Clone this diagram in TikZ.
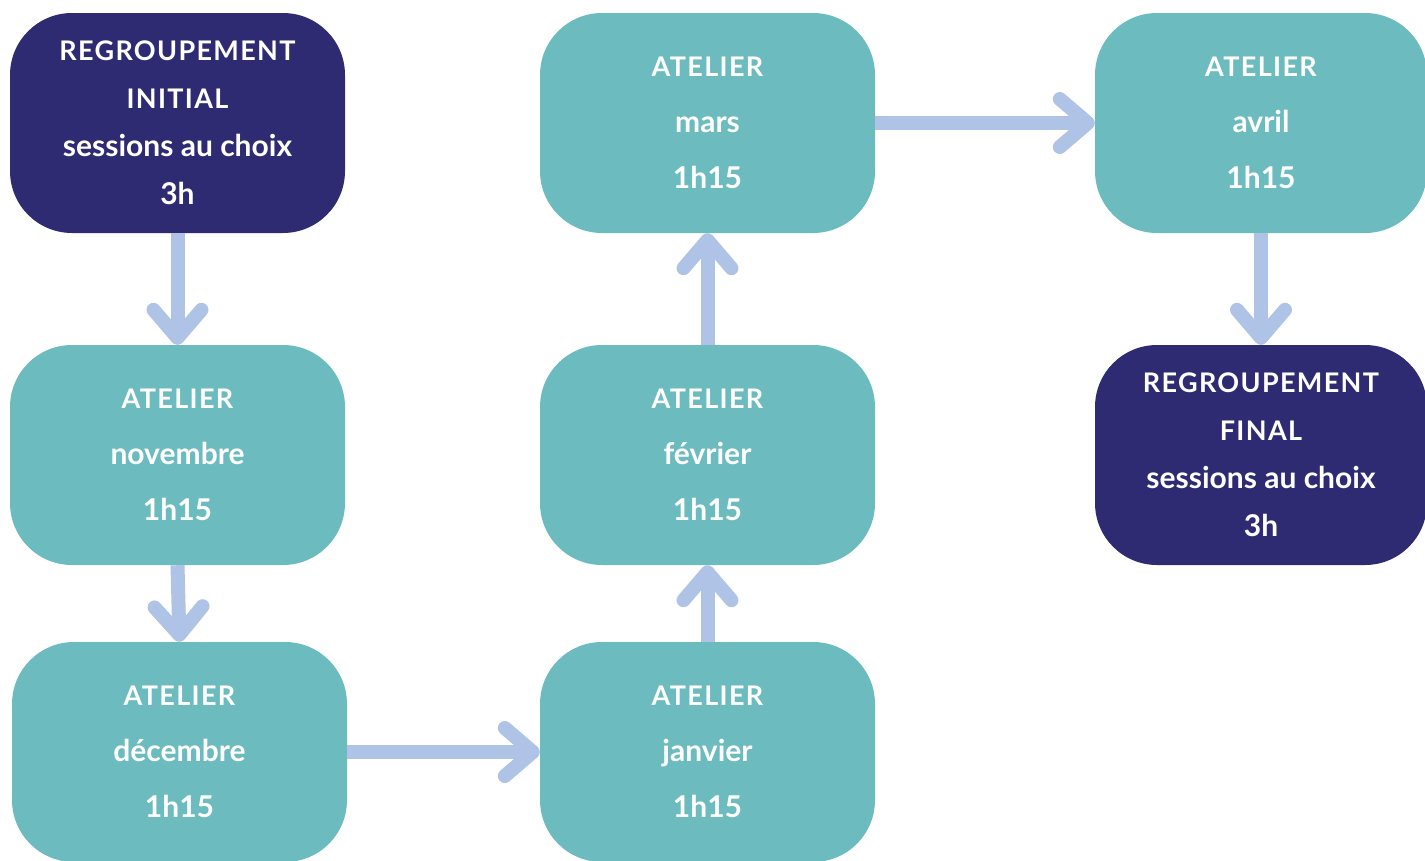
\documentclass[tikz,border=0pt]{standalone}
\usepackage{fontspec}
\setmainfont{Lato}
\usetikzlibrary{arrows.meta}
\definecolor{navy}{HTML}{2E2B73}
\definecolor{teal}{HTML}{6CBCBF}
\definecolor{arrowblue}{HTML}{AEC3E6}
\newcommand{\capsp}[1]{{\fontsize{27}{56}\selectfont\addfontfeatures{LetterSpace=5}#1}}
\tikzset{
  box/.style={rounded corners=62pt, minimum width=335pt, minimum height=220pt,
    inner sep=0pt, align=center, text=white,
    font=\fontsize{30}{56}\selectfont\bfseries},
  darkbox/.style={box, fill=navy, font=\fontsize{30}{48}\selectfont\bfseries},
  lightbox/.style={box, fill=teal},
  flow/.style={draw=arrowblue, line width=14pt, line cap=butt,
    -{Straight Barb[length=28pt, width=48pt, round]}}
}
\begin{document}
\begin{tikzpicture}[x=1pt, y=-1pt]
\useasboundingbox (0,0) rectangle (1425,860);
\node[darkbox] (b1) at (177.5,123) {\capsp{REGROUPEMENT}\\\capsp{INITIAL}\\sessions au choix\\3h};
\node[lightbox] (b2) at (177.5,455) {\capsp{ATELIER}\\novembre\\1h15};
\node[lightbox] (b3) at (179.5,752) {\capsp{ATELIER}\\décembre\\1h15};
\node[lightbox] (b4) at (707.5,752) {\capsp{ATELIER}\\janvier\\1h15};
\node[lightbox] (b5) at (707.5,455) {\capsp{ATELIER}\\février\\1h15};
\node[lightbox] (b6) at (707.5,123) {\capsp{ATELIER}\\mars\\1h15};
\node[lightbox, minimum width=332pt] (b7) at (1261,123) {\capsp{ATELIER}\\avril\\1h15};
\node[darkbox, minimum width=332pt] (b8) at (1261,455) {\capsp{REGROUPEMENT}\\\capsp{FINAL}\\sessions au choix\\3h};
\draw[flow] (b1.south) -- (b2.north);
\draw[flow] (b2.south) -- (b3.north);
\draw[flow] (b3.east) -- (b4.west);
\draw[flow] (b4.north) -- (b5.south);
\draw[flow] (b5.north) -- (b6.south);
\draw[flow] (b6.east) -- (b7.west);
\draw[flow] (b7.south) -- (b8.north);
\end{tikzpicture}
\end{document}
